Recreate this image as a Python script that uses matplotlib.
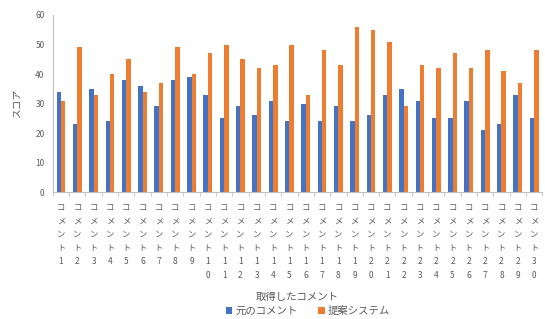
import matplotlib
matplotlib.use("Agg")
import matplotlib.pyplot as plt
import numpy as np

plt.rcParams['font.family'] = ['Noto Sans CJK JP', 'DejaVu Sans']

# values
categories = ["コメント" + str(i) for i in range(1, 31)]
original = [34, 23, 35, 24, 38, 36, 29, 38, 39, 33,
            25, 29, 26, 31, 24, 30, 24, 29, 24, 26,
            33, 35, 31, 25, 25, 31, 21, 23, 33, 25]
proposed = [31, 49, 33, 40, 45, 34, 37, 49, 40, 47,
            50, 45, 42, 43, 50, 33, 48, 43, 56, 55,
            51, 29, 43, 42, 47, 42, 48, 41, 37, 48]
series_names = ["元のコメント", "提案システム"]
y_ticks = [0, 10, 20, 30, 40, 50, 60]

blue = "#4472C4"
orange = "#ED7D31"
gray = "#595959"

fig = plt.figure(figsize=(5.45, 3.19), dpi=100)
ax = fig.add_axes([0.097, 0.398, 0.898, 0.555])

x = np.arange(len(categories))
w = 0.27
ax.bar(x - w / 2, original, w, color=blue, label=series_names[0])
ax.bar(x + w / 2, proposed, w, color=orange, label=series_names[1])

ax.set_xlim(-0.5, len(categories) - 0.5)
ax.set_ylim(0, 60)
ax.set_yticks(y_ticks)
ax.tick_params(axis='y', length=0, labelsize=6, labelcolor=gray, pad=6)

# stacked vertical category labels, one character per line
labels = ["\n".join(list(c)) for c in categories]
ax.set_xticks(x)
ax.set_xticklabels(labels, fontsize=6, color=gray, linespacing=1.65, va='top')
ax.set_xticks(np.arange(-0.5, len(categories), 1), minor=True)
ax.tick_params(axis='x', which='major', length=0, pad=8)
ax.tick_params(axis='x', which='minor', length=3, color="#bfbfbf")

for s in ["top", "right"]:
    ax.spines[s].set_visible(False)
ax.spines["left"].set_color("#bfbfbf")
ax.spines["bottom"].set_color("#bfbfbf")

ax.set_ylabel("スコア", fontsize=7, color=gray, labelpad=10)
fig.text(0.545, 0.068, "取得したコメント", ha='center', va='center', fontsize=7.5, color=gray)

fig.legend(loc='center', bbox_to_anchor=(0.565, 0.025), ncol=2, frameon=False,
           fontsize=7.5, labelcolor=gray, handlelength=0.6, handleheight=0.6,
           columnspacing=2.0, handletextpad=0.3, borderpad=0)

fig.savefig("out.png", dpi=100)
